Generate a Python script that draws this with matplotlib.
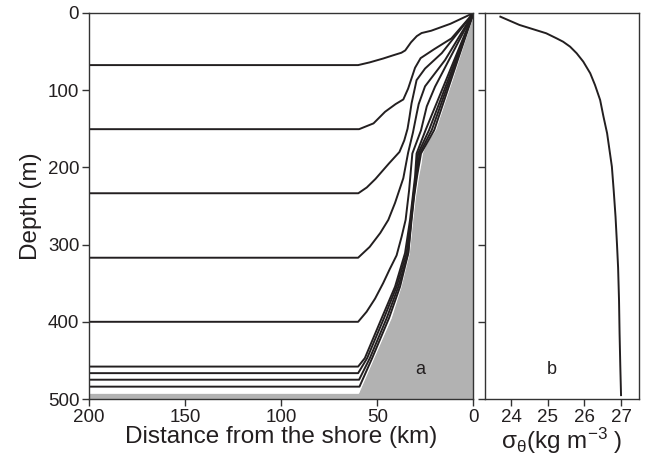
import numpy as np
import matplotlib
matplotlib.use("Agg")
from matplotlib import pyplot as plt

plt.rcParams['font.family'] = ['Liberation Sans', 'DejaVu Sans']

INK = '#231f20'
GREY = '#b2b2b2'

# bottom topography: distance from shore (km), depth (m)
topo_km = [200, 59.9, 52.1, 43.0, 37.9, 33.6, 31.8, 30.4, 28.8, 27.5, 26.8, 25.0, 22.7, 20.0, 11.3, 0]
topo_m = [492, 492, 447, 395, 354.5, 311, 268, 238, 212, 195, 182, 171, 161, 151.6, 87, 0]

# layer interfaces (km, m), offshore to shore
iface_km = [
    [200, 60, 54, 47, 42, 37.5, 35.5, 32.5, 29.5, 27, 22, 12, 0],
    [200, 59.5, 52, 46, 40.5, 36.5, 34, 30.4, 27.5, 20.5, 11.5, 0],
    [200, 59.9, 55.5, 51, 44, 38.5, 36, 34.3, 33.3, 32.2, 29.6, 25.2, 16.5, 0],
    [200, 60, 54, 48.5, 44.3, 40.8, 36.5, 34, 31.5, 29.5, 28.5, 25.2, 14.8, 0],
    [200, 60, 55.6, 51.2, 47, 43.6, 40, 37.4, 35.3, 33.5, 31.8, 27.3, 24.3, 20, 0],
    [200, 60, 56.5, 47.7, 40.8, 35.6, 33.0, 31.6, 30.4, 29.6, 24.9, 0],
    [200, 60, 55.3, 46.5, 40.0, 34.8, 32.6, 31.3, 30.0, 28.8, 23.1, 0],
    [200, 59.5, 53.9, 45.1, 39.1, 34.0, 32.4, 31.1, 29.7, 28.0, 21.7, 0],
    [200, 59.3, 52.7, 43.9, 38.2, 33.9, 32.2, 30.9, 29.4, 27.3, 20.4, 0],
]
iface_m = [
    [67.5, 67.5, 64, 59, 55, 51.5, 48.5, 38, 30, 26, 23, 14, 0],
    [150.5, 150.5, 143, 128, 118, 112, 98, 71, 58.5, 47, 33, 0],
    [233.5, 233.5, 226, 215, 195, 180, 165, 150, 135, 117, 87, 72, 52, 0],
    [317, 317, 303, 285, 268, 246, 214, 181, 155, 130, 118, 95, 61, 0],
    [400, 400, 387, 370, 350, 332, 314, 290, 268, 230, 182, 152, 121, 95.5, 0],
    [458, 458, 447, 395, 354.5, 311, 268, 238, 212, 182, 151.6, 0],
    [466.5, 466.5, 447, 395, 354.5, 311, 268, 238, 212, 182, 151.6, 0],
    [475, 475, 447, 395, 354.5, 311, 268, 238, 212, 182, 151.6, 0],
    [484, 484, 447, 395, 354.5, 311, 268, 238, 212, 182, 151.6, 0],
]

# potential density profile
sigma = [23.71, 24.23, 24.96, 25.24, 25.42, 25.61, 25.79, 25.97, 26.16,
         26.29, 26.43, 26.52, 26.62, 26.75, 26.80, 26.85, 26.89, 26.92,
         26.945, 26.96, 26.98, 27.00]
sigma_z = [4.8, 15.5, 26.3, 32.8, 37.2, 43.6, 52.2, 63, 78.1,
           93.3, 112.7, 134, 155.8, 199, 230, 264, 300, 330,
           372, 415, 458, 495]

fig = plt.figure(figsize=(6.6, 4.57), dpi=100)
ax = fig.add_axes([0.1348, 0.1269, 0.5826, 0.8447])
ax2 = fig.add_axes([0.7348, 0.1269, 0.2334, 0.8447])

ax.fill_between(topo_km, topo_m, 500, color=GREY, lw=0)
ax.plot(topo_km, topo_m, color='white', lw=1.4)
for xs, zs in zip(iface_km, iface_m):
    ax.plot(xs, zs, color=INK, lw=1.4, solid_joinstyle='round')

ax.set_xlim(200, 0)
ax.set_ylim(500, 0)
ax.set_xticks([200, 150, 100, 50, 0])
ax.set_yticks([0, 100, 200, 300, 400, 500])
ax.set_xlabel('Distance from the shore (km)', fontsize=17.5, labelpad=0, color=INK)
ax.set_ylabel('Depth (m)', fontsize=17.5, labelpad=4, color=INK)
ax.text(27.8, 462, 'a', fontsize=13, ha='center', va='center', color=INK)

ax2.plot(sigma, sigma_z, color=INK, lw=1.4)
ax2.set_xlim(23.29, 27.49)
ax2.set_ylim(500, 0)
ax2.set_xticks([24, 25, 26, 27])
ax2.set_yticks([0, 100, 200, 300, 400, 500])
ax2.set_yticklabels([])
ax2.set_xlabel(r'$\mathregular{\sigma_\theta}$(kg m$\mathregular{^{-3}}$ )',
               fontsize=17.5, labelpad=0, color=INK)
ax2.text(25.12, 462, 'b', fontsize=13, ha='center', va='center', color=INK)

for a in (ax, ax2):
    for s in a.spines.values():
        s.set_color('#333333')
        s.set_linewidth(1.0)
    a.tick_params(direction='out', length=5, width=1.0, color='#333333',
                  labelsize=13.5, labelcolor=INK, pad=2)

fig.savefig('out.png', dpi=100)
